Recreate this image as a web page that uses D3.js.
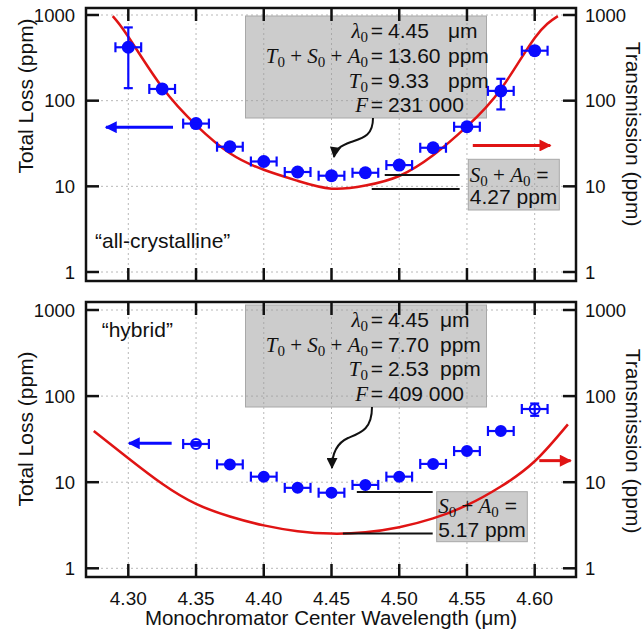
<!DOCTYPE html>
<html>
<head>
<meta charset="utf-8">
<script src="https://cdn.jsdelivr.net/npm/d3@7"></script>
<style>
  body { margin: 0; background: #fff; }
  text { font-family: "Liberation Sans", Arial, sans-serif; fill: #111; }
</style>
</head>
<body>
<script>
// measured points (ppm), monochromator centre wavelength (µm)
const wlCrystalline = [4.30, 4.325, 4.35, 4.375, 4.40, 4.425, 4.45, 4.475, 4.50, 4.525, 4.55, 4.575, 4.60];
const lossCrystalline = [420, 137, 54, 29, 19.5, 14.7, 13.3, 14.4, 17.7, 28.2, 49.6, 130, 383];
const lowCrystalline = [140, 137, 54, 29, 19.5, 14.7, 13.3, 14.4, 17.7, 28.2, 49.6, 79, 383];
const highCrystalline = [716, 137, 54, 29, 19.5, 14.7, 13.3, 14.4, 17.7, 28.2, 49.6, 180, 383];

const wlHybrid = [4.35, 4.375, 4.40, 4.425, 4.45, 4.475, 4.50, 4.525, 4.55, 4.575, 4.60];
const lossHybrid = [27.8, 16.1, 11.6, 8.6, 7.55, 9.3, 11.6, 16.3, 23, 39.3, 70.8];
const lowHybrid = [26.5, 16.1, 11.6, 8.6, 7.55, 9.3, 11.6, 16.3, 23, 37.5, 59];
const highHybrid = [29.2, 16.1, 11.6, 8.6, 7.55, 9.3, 11.6, 16.3, 23, 41.2, 82];
const hollowHybrid = [true, false, false, false, false, false, false, false, false, false, true];

const xHalfWidth = 0.0095;

// fitted transmission curves
const fitCrystallineX = [4.2885, 4.30, 4.325, 4.35, 4.375, 4.40, 4.425, 4.45, 4.475, 4.50, 4.525, 4.55, 4.575, 4.60, 4.6171];
const fitCrystallineY = [971, 557, 143, 51.9, 24.3, 15.6, 11.6, 9.4, 10.2, 13.2, 23, 50, 136, 540, 971];
const fitHybridX = [4.2745, 4.30, 4.325, 4.35, 4.375, 4.40, 4.425, 4.45, 4.475, 4.50, 4.525, 4.55, 4.575, 4.60, 4.6245];
const fitHybridY = [39.3, 19, 9.6, 5.6, 4.0, 3.15, 2.7, 2.53, 2.62, 3.0, 3.8, 5.4, 8.9, 17.5, 47];

const xTicks = [4.30, 4.35, 4.40, 4.45, 4.50, 4.55, 4.60];
const yTicks = [1, 10, 100, 1000];

const BLUE = "#0a0aff";
const RED = "#e01414";

const svg = d3.select("body").append("svg")
    .attr("width", 644)
    .attr("height", 635);

const defs = svg.append("defs");
function headMarker(id, color, w, h) {
    defs.append("marker")
        .attr("id", id)
        .attr("viewBox", "0 0 10 10")
        .attr("refX", 9).attr("refY", 5)
        .attr("markerUnits", "userSpaceOnUse")
        .attr("markerWidth", w).attr("markerHeight", h)
        .attr("orient", "auto")
        .append("path")
        .attr("d", "M0,0 L10,5 L0,10 Z")
        .attr("fill", color);
}
headMarker("headBlue", BLUE, 14, 12);
headMarker("headRed", RED, 14, 12);
headMarker("headBlack", "#111", 12, 11);

const x = d3.scaleLinear().domain([4.30, 4.60]).range([128.3, 534.7]);
const frameX0 = 86, frameX1 = 576;

// writes "T0 + S0 + A0" style math: italic serif letters with upright subscripts
function mathText(g, px, py, anchor, parts) {
    const t = g.append("text")
        .attr("x", px).attr("y", py)
        .attr("text-anchor", anchor)
        .style("font-family", "'Liberation Serif', 'Times New Roman', serif")
        .style("font-size", "21px");
    let shifted = false;
    parts.forEach(p => {
        const s = t.append("tspan").text(p[0]);
        if (p[1] === "i") {
            s.style("font-style", "italic");
            if (shifted) { s.attr("dy", -4); shifted = false; }
        } else if (p[1] === "sub") {
            s.style("font-size", "15px").attr("dy", 4);
            shifted = true;
        } else {
            if (shifted) { s.attr("dy", -4); shifted = false; }
        }
    });
    return t;
}

function drawPanel(cfg) {
    const y = d3.scaleLog().domain([1, 1000]).range([cfg.yBot, cfg.yTop]);
    const g = svg.append("g");

    // grid
    g.selectAll(".gx").data(xTicks).join("line")
        .attr("x1", d => x(d)).attr("x2", d => x(d))
        .attr("y1", cfg.y0).attr("y2", cfg.y1)
        .attr("stroke", "#b8b8b8").attr("stroke-width", 1).attr("stroke-dasharray", "2,3");
    g.selectAll(".gy").data(yTicks).join("line")
        .attr("x1", frameX0).attr("x2", frameX1)
        .attr("y1", d => y(d)).attr("y2", d => y(d))
        .attr("stroke", "#b8b8b8").attr("stroke-width", 1).attr("stroke-dasharray", "2,3");

    // info box (translucent, grid shows through)
    g.append("rect")
        .attr("x", 245.5).attr("y", cfg.box[0])
        .attr("width", 241).attr("height", cfg.box[1] - cfg.box[0])
        .attr("fill", "#9a9a9a").attr("fill-opacity", 0.5)
        .attr("stroke", "#a8a8a8").attr("stroke-width", 1);
    g.append("rect")
        .attr("x", cfg.sBox[0]).attr("y", cfg.sBox[1])
        .attr("width", cfg.sBox[2]).attr("height", cfg.sBox[3])
        .attr("fill", "#9a9a9a").attr("fill-opacity", 0.5)
        .attr("stroke", "#a8a8a8").attr("stroke-width", 1);

    // fit curve
    const line = d3.line()
        .x(d => x(d[0])).y(d => y(d[1]))
        .curve(d3.curveNatural);
    g.append("path")
        .datum(cfg.fitX.map((v, i) => [v, cfg.fitY[i]]))
        .attr("d", line)
        .attr("fill", "none").attr("stroke", RED).attr("stroke-width", 2.5);

    // level lines T0+S0+A0 and T0
    cfg.levels.forEach(l => {
        g.append("line")
            .attr("x1", x(l.from)).attr("x2", x(l.to))
            .attr("y1", y(l.v)).attr("y2", y(l.v))
            .attr("stroke", "#111").attr("stroke-width", 2);
    });

    // data markers
    const pts = cfg.wl.map((w, i) => ({ w, v: cfg.loss[i], lo: cfg.lo[i], hi: cfg.hi[i], hollow: cfg.hollow ? cfg.hollow[i] : false }));
    g.selectAll(".dot").data(pts).join("circle")
        .attr("cx", d => x(d.w)).attr("cy", d => y(d.v))
        .attr("r", cfg.r)
        .attr("fill", d => d.hollow ? "#fff" : BLUE)
        .attr("stroke", BLUE).attr("stroke-width", cfg.hollowStroke);

    const eb = g.append("g").attr("stroke", BLUE).attr("stroke-width", 2.2);
    pts.forEach(d => {
        const cx = x(d.w), cy = y(d.v);
        const xl = x(d.w - xHalfWidth), xr = x(d.w + xHalfWidth);
        eb.append("line").attr("x1", xl).attr("x2", xr).attr("y1", cy).attr("y2", cy);
        eb.append("line").attr("x1", xl).attr("x2", xl).attr("y1", cy - 5).attr("y2", cy + 5);
        eb.append("line").attr("x1", xr).attr("x2", xr).attr("y1", cy - 5).attr("y2", cy + 5);
        if (d.hi > d.v || d.lo < d.v) {
            eb.append("line").attr("x1", cx).attr("x2", cx).attr("y1", y(d.lo)).attr("y2", y(d.hi));
            eb.append("line").attr("x1", cx - 4.5).attr("x2", cx + 4.5).attr("y1", y(d.lo)).attr("y2", y(d.lo));
            eb.append("line").attr("x1", cx - 4.5).attr("x2", cx + 4.5).attr("y1", y(d.hi)).attr("y2", y(d.hi));
        }
    });

    // axis direction arrows
    g.append("line")
        .attr("x1", x(cfg.blue[0])).attr("x2", x(cfg.blue[1]))
        .attr("y1", y(cfg.blue[2])).attr("y2", y(cfg.blue[2]))
        .attr("stroke", BLUE).attr("stroke-width", 3).attr("marker-end", "url(#headBlue)");
    g.append("line")
        .attr("x1", x(cfg.red[0])).attr("x2", x(cfg.red[1]))
        .attr("y1", y(cfg.red[2])).attr("y2", y(cfg.red[2]))
        .attr("stroke", RED).attr("stroke-width", 3).attr("marker-end", "url(#headRed)");

    // curly arrow from the box to the minimum point
    g.append("path")
        .attr("d", cfg.curl)
        .attr("fill", "none").attr("stroke", "#111").attr("stroke-width", 2)
        .attr("marker-end", "url(#headBlack)");

    // frame
    g.append("rect")
        .attr("x", frameX0).attr("y", cfg.y0)
        .attr("width", frameX1 - frameX0).attr("height", cfg.y1 - cfg.y0)
        .attr("fill", "none").attr("stroke", "#111").attr("stroke-width", 2.5);

    // inside ticks
    const tk = g.append("g").attr("stroke", "#111").attr("stroke-width", 2.5);
    yTicks.forEach(t => {
        tk.append("line").attr("x1", frameX0).attr("x2", frameX0 + 13).attr("y1", y(t)).attr("y2", y(t));
        tk.append("line").attr("x1", frameX1 - 13).attr("x2", frameX1).attr("y1", y(t)).attr("y2", y(t));
    });
    xTicks.forEach(t => {
        tk.append("line").attr("x1", x(t)).attr("x2", x(t)).attr("y1", cfg.y0).attr("y2", cfg.y0 + 13);
        tk.append("line").attr("x1", x(t)).attr("x2", x(t)).attr("y1", cfg.y1 - 13).attr("y2", cfg.y1);
    });

    // y tick labels on both sides
    g.selectAll(".yl").data(yTicks).join("text")
        .attr("x", 75).attr("y", d => y(d)).attr("dy", "0.36em")
        .attr("text-anchor", "end").style("font-size", "18.5px")
        .text(d => d);
    g.selectAll(".yr").data(yTicks).join("text")
        .attr("x", 585).attr("y", d => y(d)).attr("dy", "0.36em")
        .attr("text-anchor", "start").style("font-size", "18.5px")
        .text(d => d);

    // axis titles
    g.append("text")
        .attr("transform", `translate(33,${cfg.leftMid}) rotate(-90)`)
        .attr("text-anchor", "middle").style("font-size", "21px")
        .text("Total Loss (ppm)");
    g.append("text")
        .attr("transform", `translate(626,${cfg.rightMid}) rotate(90)`)
        .attr("text-anchor", "middle").style("font-size", "21px")
        .text("Transmission (ppm)");

    // sample label
    g.append("text")
        .attr("x", cfg.label[0]).attr("y", cfg.label[1])
        .style("font-size", "21px")
        .text(cfg.labelText);

    // box text
    const lines = [
        [[["λ", "i"], ["0", "sub"]], "4.45", "μm"],
        [[["T", "i"], ["0", "sub"], [" + ", "n"], ["S", "i"], ["0", "sub"], [" + ", "n"], ["A", "i"], ["0", "sub"]], cfg.sum, "ppm"],
        [[["T", "i"], ["0", "sub"]], cfg.t0, "ppm"],
        [[["F", "i"]], cfg.finesse, ""]
    ];
    lines.forEach((ln, i) => {
        const by = cfg.baselines[i];
        mathText(g, 368, by, "end", ln[0]);
        g.append("text").attr("x", 377).attr("y", by).attr("text-anchor", "middle")
            .style("font-size", "21px").text("=");
        g.append("text").attr("x", 388).attr("y", by).style("font-size", "21px").text(ln[1]);
        if (ln[2]) {
            g.append("text").attr("x", cfg.unitX).attr("y", by).style("font-size", "21px").text(ln[2]);
        }
    });

    // S0 + A0 box text
    const sx = cfg.sBox[0] + 1.5;
    const st = mathText(g, sx, cfg.sBase[0], "start",
        [["S", "i"], ["0", "sub"], [" + ", "n"], ["A", "i"], ["0", "sub"]]);
    st.append("tspan").text(" =").attr("dy", -4)
        .style("font-family", "'Liberation Sans', Arial, sans-serif");
    g.append("text").attr("x", sx).attr("y", cfg.sBase[1])
        .style("font-size", "21px").text(cfg.sa);
}

drawPanel({
    y0: 8, y1: 281, yTop: 15, yBot: 272,
    wl: wlCrystalline, loss: lossCrystalline, lo: lowCrystalline, hi: highCrystalline,
    r: 6.5, hollowStroke: 0,
    fitX: fitCrystallineX, fitY: fitCrystallineY,
    box: [16, 118], baselines: [38.3, 63, 87.5, 112], unitX: 448,
    sum: "13.60", t0: "9.33", finesse: "231 000",
    sBox: [468.3, 159.3, 91, 50.7], sBase: [181.7, 204], sa: "4.27 ppm",
    levels: [{ from: 4.4893, to: 4.5446, v: 13.6 }, { from: 4.4797, to: 4.5446, v: 9.33 }],
    blue: [4.333, 4.2835, 49], red: [4.5543, 4.6115, 30],
    curl: "M373,118 C373,136 363,138 351,142 C340,146 335,150 334,157",
    leftMid: 96, rightMid: 134,
    label: [95, 248], labelText: "“all-crystalline”"
});

drawPanel({
    y0: 302, y1: 577, yTop: 310, yBot: 568.3,
    wl: wlHybrid, loss: lossHybrid, lo: lowHybrid, hi: highHybrid, hollow: hollowHybrid,
    r: 5, hollowStroke: 2,
    fitX: fitHybridX, fitY: fitHybridY,
    box: [305, 407], baselines: [326.7, 351.5, 376, 400.5], unitX: 440,
    sum: "7.70", t0: "2.53", finesse: "409 000",
    sBox: [436.7, 491.7, 90.6, 50], sBase: [513.3, 536.7], sa: "5.17 ppm",
    levels: [{ from: 4.4687, to: 4.5247, v: 7.70 }, { from: 4.4584, to: 4.5247, v: 2.53 }],
    blue: [4.332, 4.3005, 28.3], red: [4.6034, 4.6265, 17.8],
    curl: "M372,407 C372,430 360,433 348,438 C337,443 332,452 332,468",
    leftMid: 429, rightMid: 441,
    label: [101.7, 336.7], labelText: "“hybrid”"
});

// x tick labels and title under the lower panel
svg.selectAll(".xl").data(xTicks).join("text")
    .attr("x", d => x(d)).attr("y", 605)
    .attr("text-anchor", "middle").style("font-size", "19px")
    .text(d => d.toFixed(2));
svg.append("text")
    .attr("x", 331).attr("y", 625)
    .attr("text-anchor", "middle").style("font-size", "20.5px")
    .text("Monochromator Center Wavelength (μm)");
</script>
</body>
</html>
